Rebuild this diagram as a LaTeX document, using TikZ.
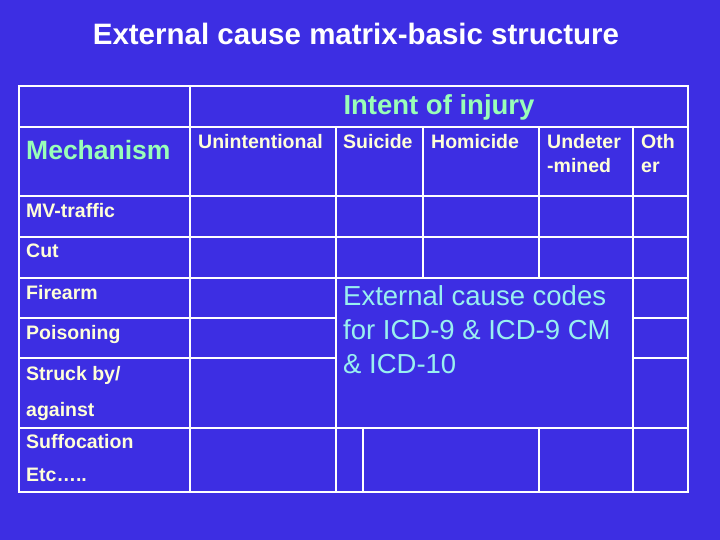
\documentclass[tikz,border=0pt]{standalone}
\usepackage{fontspec}
\setmainfont{Liberation Sans}
\begin{document}
\begin{tikzpicture}[x=1pt,y=-1pt,
 grid/.style={draw=white,line width=2.2pt},
 lab/.style={anchor=north west,inner sep=0pt,text=yellowish,font=\bfseries\fontsize{19.5}{22}\selectfont},
 hd/.style={lab,align=left,font=\bfseries\fontsize{19.5}{24}\selectfont}]
\definecolor{bg}{HTML}{3D2EE3}
\definecolor{yellowish}{HTML}{FFFFD8}
\definecolor{greenish}{HTML}{99FFB8}
\definecolor{cyanish}{HTML}{99F0F0}
\fill[bg] (0,0) rectangle (720,540);
\useasboundingbox (0,0) rectangle (720,540);
\node[text=white,font=\bfseries\fontsize{29.5}{32}\selectfont] (title) at (356,34) {External cause matrix-basic structure};
% outer border
\draw[grid] (19,86) rectangle (688,492);
% horizontal lines
\draw[grid] (19,127) -- (688,127);
\draw[grid] (19,196) -- (688,196);
\draw[grid] (19,237) -- (688,237);
\draw[grid] (19,278) -- (688,278);
\draw[grid] (19,318) -- (336,318);
\draw[grid] (19,358) -- (336,358);
\draw[grid] (633,318) -- (688,318);
\draw[grid] (633,358) -- (688,358);
\draw[grid] (19,428) -- (688,428);
% vertical lines
\draw[grid] (190,86) -- (190,492);
\draw[grid] (336,127) -- (336,492);
\draw[grid] (423,127) -- (423,278);
\draw[grid] (539,127) -- (539,278);
\draw[grid] (633,127) -- (633,492);
\draw[grid] (363,428) -- (363,492);
\draw[grid] (539,428) -- (539,492);
% texts
\node[text=greenish,font=\bfseries\fontsize{27.5}{30}\selectfont] (intent) at (439,107) {Intent of injury};
\node[text=greenish,font=\bfseries\fontsize{26.5}{30}\selectfont,anchor=west,inner sep=0pt] (mech) at (26,150) {Mechanism};
\node[hd] (h1) at (198,134) {Unintentional};
\node[hd] (h2) at (343,134) {Suicide};
\node[hd] (h3) at (431,134) {Homicide};
\node[hd] (h4) at (547,134) {Undeter\\-mined};
\node[hd] (h5) at (641,134) {Oth\\er};
\node[lab] (r1) at (26,203) {MV-traffic};
\node[lab] (r2) at (26,244) {Cut};
\node[lab] (r3) at (26,285) {Firearm};
\node[lab] (r4) at (26,325) {Poisoning};
\node[lab] (r5) at (26,366) {Struck by/};
\node[lab] (r5b) at (26,402) {against};
\node[lab] (r6) at (26,434) {Suffocation};
\node[lab] (r7) at (26,468) {Etc…..};
\node[anchor=north west,inner sep=0pt,align=left,text=cyanish,font=\fontsize{27.5}{34}\selectfont] (ext) at (343,285) {External cause codes\\for ICD-9 \& ICD-9 CM\\\& ICD-10};
\end{tikzpicture}
\end{document}
